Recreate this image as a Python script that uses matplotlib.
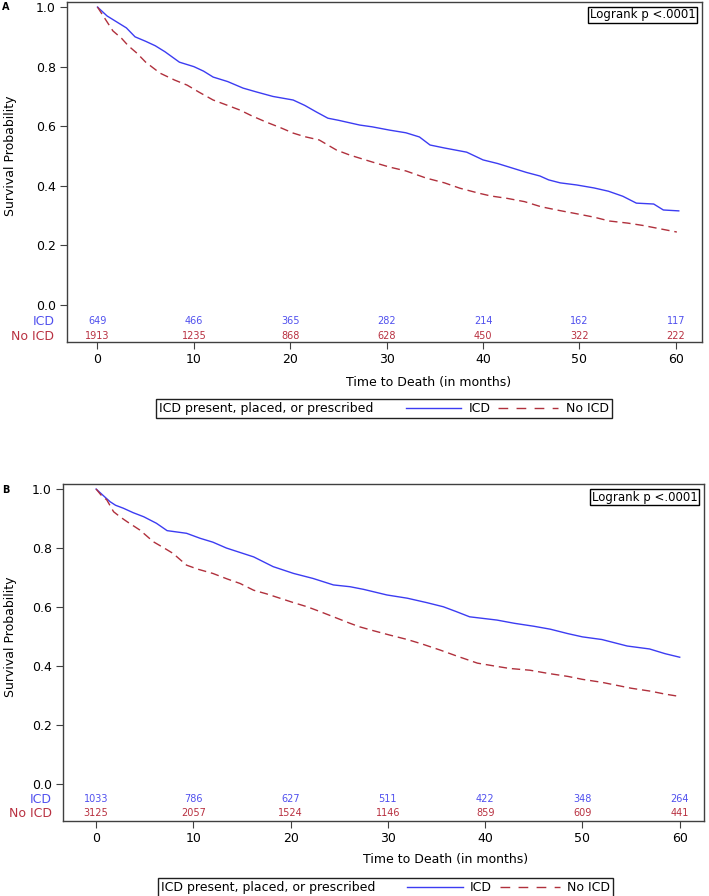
import numpy as np
import matplotlib
matplotlib.use("Agg")
import matplotlib.pyplot as plt
import matplotlib.transforms as mtransforms
from matplotlib.lines import Line2D
from matplotlib.ticker import FormatStrFormatter
from matplotlib.offsetbox import (AnchoredOffsetbox, AnchoredText, HPacker,
                                  TextArea, DrawingArea)

plt.rcParams["font.family"] = "DejaVu Sans"
plt.rcParams["font.size"] = 9

# --- panel A : Kaplan-Meier readings (months, survival) ---
a_icd_t = [0, 0.5, 1, 2, 3, 3.9, 5, 6, 7, 8.5, 10, 11, 12, 13.5, 15.1, 16.5, 18.2,
           20.3, 21.5, 22.7, 23.9, 25, 27.2, 28.5, 30.3, 32, 33.4, 34.5, 36, 38.3,
           40, 41.5, 43, 44.5, 45.9, 46.8, 48, 49.7, 51.5, 53, 54.5, 55.9, 57.7,
           58.7, 60.3]
a_icd_s = [1.0, 0.985, 0.97, 0.95, 0.93, 0.90, 0.885, 0.87, 0.85, 0.815, 0.80,
           0.785, 0.765, 0.75, 0.728, 0.715, 0.70, 0.688, 0.67, 0.648, 0.627,
           0.62, 0.604, 0.598, 0.587, 0.578, 0.564, 0.537, 0.527, 0.513, 0.487,
           0.475, 0.46, 0.445, 0.433, 0.42, 0.41, 0.403, 0.393, 0.382, 0.365,
           0.342, 0.339, 0.319, 0.316]

a_noicd_t = [0, 0.5, 1, 1.6, 2.5, 3.2, 4.1, 5, 6.5, 8, 9.3, 10.5, 12, 13.5, 14.8,
             16, 17.5, 19, 20.3, 21.5, 23, 24, 24.8, 26.2, 27.2, 28.5, 30.3, 32,
             34.1, 36, 37.6, 39.6, 40.8, 42.5, 44.3, 46, 47.8, 49.6, 51.5, 53.1,
             55, 56.6, 58.5, 60.1]
a_noicd_s = [1.0, 0.975, 0.95, 0.92, 0.895, 0.87, 0.845, 0.815, 0.778, 0.755,
             0.738, 0.715, 0.688, 0.67, 0.654, 0.635, 0.614, 0.595, 0.577, 0.565,
             0.554, 0.535, 0.52, 0.503, 0.493, 0.48, 0.463, 0.45, 0.426, 0.41,
             0.392, 0.375, 0.366, 0.358, 0.347, 0.33, 0.318, 0.307, 0.295, 0.282,
             0.275, 0.267, 0.255, 0.245]

# --- panel B ---
b_icd_t = [0, 0.5, 1, 1.44, 2, 2.8, 3.8, 4.9, 6.2, 7.3, 9.3, 10.7, 12, 13.4, 14.8,
           16.2, 18.2, 20.3, 22.3, 24.4, 26.1, 27.5, 29.9, 32, 34, 35.7, 37, 38.4,
           41.2, 43, 45, 46.7, 48.5, 50, 52, 54.6, 56.9, 58.5, 60]
b_icd_s = [1.0, 0.985, 0.97, 0.957, 0.945, 0.935, 0.92, 0.906, 0.884, 0.859,
           0.85, 0.833, 0.82, 0.80, 0.785, 0.77, 0.737, 0.714, 0.697, 0.675,
           0.669, 0.66, 0.641, 0.63, 0.615, 0.601, 0.585, 0.567, 0.556, 0.545,
           0.535, 0.525, 0.51, 0.499, 0.49, 0.468, 0.458, 0.442, 0.43]

b_noicd_t = [0, 0.5, 1.1, 1.8, 2.5, 3.2, 4.5, 5.9, 7, 7.9, 9.3, 10.5, 12, 13.5,
             14.8, 16.2, 17.5, 18.9, 20.3, 21.7, 23, 24.4, 26.1, 27.1, 28.5, 30.2,
             32, 33.5, 35.4, 37, 39.2, 41, 42.5, 44.6, 46.5, 48.5, 50, 52, 53.5,
             55, 57, 58.5, 60]
b_noicd_s = [1.0, 0.98, 0.963, 0.923, 0.905, 0.889, 0.861, 0.821, 0.80, 0.782,
             0.742, 0.728, 0.714, 0.695, 0.68, 0.657, 0.645, 0.63, 0.615, 0.601,
             0.585, 0.567, 0.545, 0.533, 0.52, 0.505, 0.49, 0.475, 0.454, 0.435,
             0.41, 0.40, 0.392, 0.386, 0.375, 0.365, 0.355, 0.345, 0.335, 0.325,
             0.315, 0.305, 0.297]

# numbers at risk
risk_times = [0, 10, 20, 30, 40, 50, 60]
a_risk_icd = [649, 466, 365, 282, 214, 162, 117]
a_risk_noicd = [1913, 1235, 868, 628, 450, 322, 222]
b_risk_icd = [1033, 786, 627, 511, 422, 348, 264]
b_risk_noicd = [3125, 2057, 1524, 1146, 859, 609, 441]

group_labels = ["ICD", "No ICD"]
legend_title = "ICD present, placed, or prescribed"
pvalue_text = "Logrank p <.0001"

blue = "#3c3cf2"
red = "#b0303c"
blue_txt = "#5050ee"
red_txt = "#b83040"
frame = "#404040"


def plot_panel(fig, rect, icd, noicd, risk_icd, risk_noicd, letter, layout):

    ax = fig.add_axes(rect)

    # curves are drawn through the read-off points (steps too small to resolve)
    ax.plot(icd[0], icd[1], color=blue, lw=1.0)
    ax.plot(noicd[0], noicd[1], color=red, lw=1.0, dashes=(6, 3.5))

    ax.set_xlim(layout["xlim"])
    ax.set_ylim(layout["ylim"])
    ax.set_xticks(risk_times)
    ax.set_yticks(np.arange(0, 1.01, 0.2))
    ax.yaxis.set_major_formatter(FormatStrFormatter("%.1f"))
    ax.tick_params(length=5, width=0.8, color=frame, labelsize=9, pad=3)
    for s in ax.spines.values():
        s.set_color(frame)
        s.set_linewidth(1.0)

    ax.set_ylabel("Survival Probability", fontsize=9)
    ax.yaxis.set_label_coords(layout["ylab_x"], 0.547)
    ax.set_xlabel("Time to Death (in months)", fontsize=9)
    ax.xaxis.set_label_coords(layout["xlab_x"], layout["xlab_y"])

    # numbers at risk inside the plot area
    rows = [(risk_icd, blue_txt, layout["row_y"][0]),
            (risk_noicd, red_txt, layout["row_y"][1])]
    trans = mtransforms.blended_transform_factory(ax.transAxes, ax.transData)
    for (vals, c, y), lab in zip(rows, group_labels):
        for t, v in zip(risk_times, vals):
            ax.text(t, y, str(v), color=c, fontsize=7, ha="center", va="center")
        ax.text(layout["rowlab_x"], y, lab, color=c, fontsize=9, ha="right",
                va="center", transform=trans, clip_on=False)

    at = AnchoredText(pvalue_text, loc="upper right", pad=0.15, borderpad=0.4,
                      prop=dict(size=8.5))
    at.patch.set_boxstyle("square", pad=0)
    at.patch.set_linewidth(1.0)
    ax.add_artist(at)

    fig.text(layout["letter_xy"][0], layout["letter_xy"][1], letter,
             fontsize=7, fontweight="bold", ha="left", va="center")

    # legend box below the axis title
    line_icd = DrawingArea(40, 8, 0, 0)
    line_icd.add_artist(Line2D([0, 40], [4, 4], color=blue, lw=1.0))
    line_no = DrawingArea(43, 8, 0, 0)
    line_no.add_artist(Line2D([0, 43], [4, 4], color=red, lw=1.0,
                              dashes=(7, 6)))
    spacer = DrawingArea(12, 8, 0, 0)
    box = HPacker(children=[TextArea(legend_title, textprops=dict(size=9)),
                            spacer, line_icd,
                            TextArea(group_labels[0], textprops=dict(size=9)),
                            line_no,
                            TextArea(group_labels[1], textprops=dict(size=9))],
                  align="center", pad=0, sep=5.5)
    leg = AnchoredOffsetbox(loc="center", child=box, pad=0.25, borderpad=0,
                            frameon=True, bbox_to_anchor=layout["legend_xy"],
                            bbox_transform=fig.transFigure)
    leg.patch.set_boxstyle("square", pad=0)
    leg.patch.set_linewidth(1.0)
    leg.patch.set_edgecolor("#202020")
    fig.add_artist(leg)

    return ax


fig = plt.figure(figsize=(7.09, 8.96), dpi=100)

layout_a = dict(xlim=(-3.16, 62.7), ylim=(-0.124, 1.017), ylab_x=-0.079,
                xlab_x=0.57, xlab_y=-0.1, row_y=(-0.054, -0.104),
                rowlab_x=-0.02, letter_xy=(0.003, 0.992),
                legend_xy=(0.5416, 0.5441))
layout_b = dict(xlim=(-3.4, 62.5), ylim=(-0.125, 1.017), ylab_x=-0.072,
                xlab_x=0.597, xlab_y=-0.095, row_y=(-0.051, -0.098),
                rowlab_x=-0.017, letter_xy=(0.003, 0.453),
                legend_xy=(0.5437, 0.0095))

plot_panel(fig, [0.0945, 0.6183, 0.8955, 0.3795],
           (a_icd_t, a_icd_s), (a_noicd_t, a_noicd_s),
           a_risk_icd, a_risk_noicd, "A", layout_a)
plot_panel(fig, [0.0889, 0.0837, 0.9041, 0.3761],
           (b_icd_t, b_icd_s), (b_noicd_t, b_noicd_s),
           b_risk_icd, b_risk_noicd, "B", layout_b)

fig.savefig("out.png", dpi=100)
